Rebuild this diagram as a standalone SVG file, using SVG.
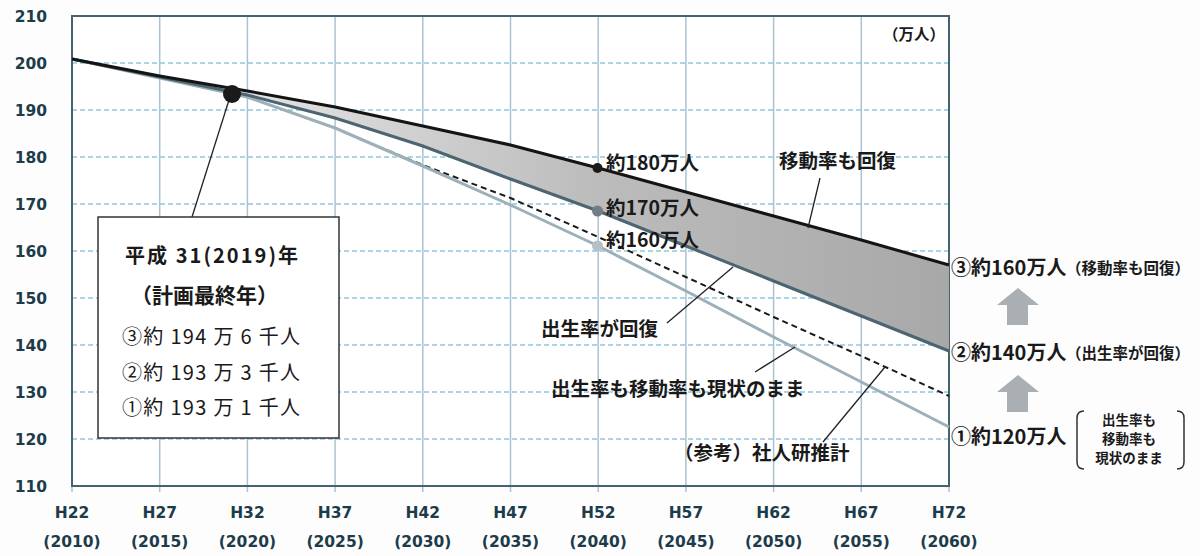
<svg xmlns="http://www.w3.org/2000/svg" width="1200" height="556" viewBox="0 0 1200 556">
<style>
.ax{font-family:"DejaVu Sans","Liberation Sans",sans-serif;font-weight:bold;font-size:15.5px;fill:#1d3c4a}
.jp{font-family:"Noto Sans CJK JP",sans-serif;fill:#1a1a1a}
.lbl{font-weight:bold;font-size:19.5px}
.big{font-weight:bold;font-size:20px}
.sm{font-weight:bold;font-size:15.5px}
.br{font-weight:bold;font-size:13.5px}
.grid-v{stroke:#a9c3d0;stroke-width:1.5}
.grid-h{stroke:#8ec6df;stroke-width:1.5;stroke-dasharray:5 3}
.lead{stroke:#222;stroke-width:1.3;fill:none}
</style>
<defs>
<linearGradient id="band" gradientUnits="userSpaceOnUse" x1="240" y1="0" x2="949" y2="0">
<stop offset="0" stop-color="#e4e4e4"/>
<stop offset="0.5" stop-color="#bcbcbc"/>
<stop offset="1" stop-color="#a8a8a8"/>
</linearGradient>
</defs>
<rect width="1200" height="556" fill="#fdfdfe"/>
<g id="plot">
<rect x="72" y="16" width="877" height="470" fill="#ffffff"/>
<g id="grid-h">
<line class="grid-h" x1="72" y1="63" x2="949" y2="63"/>
<line class="grid-h" x1="72" y1="110" x2="949" y2="110"/>
<line class="grid-h" x1="72" y1="157" x2="949" y2="157"/>
<line class="grid-h" x1="72" y1="204" x2="949" y2="204"/>
<line class="grid-h" x1="72" y1="251" x2="949" y2="251"/>
<line class="grid-h" x1="72" y1="298" x2="949" y2="298"/>
<line class="grid-h" x1="72" y1="345" x2="949" y2="345"/>
<line class="grid-h" x1="72" y1="392" x2="949" y2="392"/>
<line class="grid-h" x1="72" y1="439" x2="949" y2="439"/>
</g>
<g id="grid-v">
<line class="grid-v" x1="159.7" y1="16" x2="159.7" y2="492"/>
<line class="grid-v" x1="247.4" y1="16" x2="247.4" y2="492"/>
<line class="grid-v" x1="335.1" y1="16" x2="335.1" y2="492"/>
<line class="grid-v" x1="422.8" y1="16" x2="422.8" y2="492"/>
<line class="grid-v" x1="510.5" y1="16" x2="510.5" y2="492"/>
<line class="grid-v" x1="598.2" y1="16" x2="598.2" y2="492"/>
<line class="grid-v" x1="685.9" y1="16" x2="685.9" y2="492"/>
<line class="grid-v" x1="773.6" y1="16" x2="773.6" y2="492"/>
<line class="grid-v" x1="861.3" y1="16" x2="861.3" y2="492"/>
<line class="grid-v" x1="72" y1="486" x2="72" y2="492"/>
<line class="grid-v" x1="949" y1="486" x2="949" y2="492"/>
</g>
<rect x="72" y="16" width="877" height="470" fill="none" stroke="#45636f" stroke-width="2"/>
</g>
<g id="axis-labels">
<g text-anchor="end">
<text class="ax" x="47" y="22">210</text>
<text class="ax" x="47" y="69">200</text>
<text class="ax" x="47" y="116">190</text>
<text class="ax" x="47" y="163">180</text>
<text class="ax" x="47" y="210">170</text>
<text class="ax" x="47" y="257">160</text>
<text class="ax" x="47" y="304">150</text>
<text class="ax" x="47" y="351">140</text>
<text class="ax" x="47" y="398">130</text>
<text class="ax" x="47" y="445">120</text>
<text class="ax" x="47" y="492">110</text>
</g>
<g text-anchor="middle">
<text class="ax" x="72" y="518">H22</text><text class="ax" x="72" y="547">(2010)</text>
<text class="ax" x="159.7" y="518">H27</text><text class="ax" x="159.7" y="547">(2015)</text>
<text class="ax" x="247.4" y="518">H32</text><text class="ax" x="247.4" y="547">(2020)</text>
<text class="ax" x="335.1" y="518">H37</text><text class="ax" x="335.1" y="547">(2025)</text>
<text class="ax" x="422.8" y="518">H42</text><text class="ax" x="422.8" y="547">(2030)</text>
<text class="ax" x="510.5" y="518">H47</text><text class="ax" x="510.5" y="547">(2035)</text>
<text class="ax" x="598.2" y="518">H52</text><text class="ax" x="598.2" y="547">(2040)</text>
<text class="ax" x="685.9" y="518">H57</text><text class="ax" x="685.9" y="547">(2045)</text>
<text class="ax" x="773.6" y="518">H62</text><text class="ax" x="773.6" y="547">(2050)</text>
<text class="ax" x="861.3" y="518">H67</text><text class="ax" x="861.3" y="547">(2055)</text>
<text class="ax" x="949" y="518">H72</text><text class="ax" x="949" y="547">(2060)</text>
</g>
<text class="jp sm" x="883" y="40" fill="#1d2a30">（万人）</text>
</g>
<g id="band">
<polygon fill="url(#band)" points="240,90 247.4,91 335.1,107 422.8,126 510.5,145 598.2,168 685.9,192 773.6,216 861.3,240 949,265 949,351 861.3,316 773.6,281 685.9,246 598.2,211 510.5,179 422.8,146 335.1,118 247.4,95 240,93"/>
</g>
<g id="series">
<polyline id="line-dashed" fill="none" stroke="#1a1a1a" stroke-width="2" stroke-dasharray="6 4" points="360,139 422.8,165 510.5,198 598.2,237 685.9,277 773.6,317 861.3,356 949,396"/>
<polyline id="line-1" fill="none" stroke="#9db0b9" stroke-width="3" points="72,59 159.7,78 247.4,97 335.1,128 422.8,166 510.5,205 598.2,246 685.9,291 773.6,337 861.3,382 949,427"/>
<polyline id="line-2" fill="none" stroke="#4c6570" stroke-width="3" points="72,59 159.7,77 247.4,95 335.1,118 422.8,146 510.5,179 598.2,211 685.9,246 773.6,281 861.3,316 949,351"/>
<polyline id="line-3" fill="none" stroke="#141414" stroke-width="3" points="72,59 159.7,76 247.4,91 335.1,107 422.8,126 510.5,145 598.2,168 685.9,192 773.6,216 861.3,240 949,265"/>
<circle cx="597.5" cy="168" r="5" fill="#1a1a1a"/>
<circle cx="597.5" cy="211" r="5.5" fill="#717e85"/>
<circle cx="597.5" cy="246" r="5.5" fill="#b6c0c5"/>
</g>
<g id="connectors">
<line class="lead" x1="229" y1="100" x2="192" y2="217"/>
<line class="lead" x1="820" y1="178" x2="808" y2="228"/>
<line class="lead" x1="667" y1="323" x2="733" y2="267"/>
<line class="lead" x1="755" y1="372" x2="795" y2="347"/>
<line class="lead" x1="823" y1="442" x2="885" y2="367"/>
</g>
<g id="dot-2019">
<circle cx="232" cy="94" r="9" fill="#1a1a1a"/>
</g>
<g id="box-2019">
<rect x="98" y="217" width="241" height="221" fill="#ffffff" stroke="#333" stroke-width="1.5"/>
<text class="jp" x="125" y="263" font-size="20" font-weight="bold" textLength="173" lengthAdjust="spacing">平成 31(2019)年</text>
<text class="jp" x="131" y="303" font-size="21" font-weight="bold">（計画最終年）</text>
<text class="jp" x="122" y="344" font-size="20" textLength="178" lengthAdjust="spacing">③約 194 万 6 千人</text>
<text class="jp" x="122" y="380" font-size="20" textLength="178" lengthAdjust="spacing">②約 193 万 3 千人</text>
<text class="jp" x="122" y="415" font-size="20" textLength="178" lengthAdjust="spacing">①約 193 万 1 千人</text>
</g>
<g id="chart-labels">
<text class="jp lbl" x="606" y="170">約180万人</text>
<text class="jp lbl" x="606" y="215">約170万人</text>
<text class="jp lbl" x="606" y="247">約160万人</text>
<text class="jp lbl" x="779" y="168">移動率も回復</text>
<text class="jp lbl" x="541" y="336">出生率が回復</text>
<text class="jp lbl" x="551" y="396" font-size="18.5">出生率も移動率も現状のまま</text>
<text class="jp lbl" x="674" y="460">（参考）社人研推計</text>
</g>
<g id="right-labels">
<text class="jp big" x="951" y="275">③約160万人</text>
<text class="jp sm" x="1066" y="274">（移動率も回復）</text>
<text class="jp big" x="951" y="360">②約140万人</text>
<text class="jp sm" x="1066" y="359">（出生率が回復）</text>
<text class="jp big" x="951" y="444">①約120万人</text>
<path d="M1084,411 Q1077,411 1077,418 L1077,462 Q1077,469 1084,469" fill="none" stroke="#333" stroke-width="1.5"/>
<path d="M1177,411 Q1184,411 1184,418 L1184,462 Q1184,469 1177,469" fill="none" stroke="#333" stroke-width="1.5"/>
<g text-anchor="middle">
<text class="jp br" x="1129" y="425">出生率も</text>
<text class="jp br" x="1129" y="444">移動率も</text>
<text class="jp br" x="1129" y="463">現状のまま</text>
</g>
<polygon fill="#a9afb3" points="997,305 1018,288 1039,305 1028,305 1028,325 1007,325 1007,305"/>
<polygon fill="#a9afb3" points="997,392 1018,375 1039,392 1028,392 1028,412 1007,412 1007,392"/>
</g>
</svg>
